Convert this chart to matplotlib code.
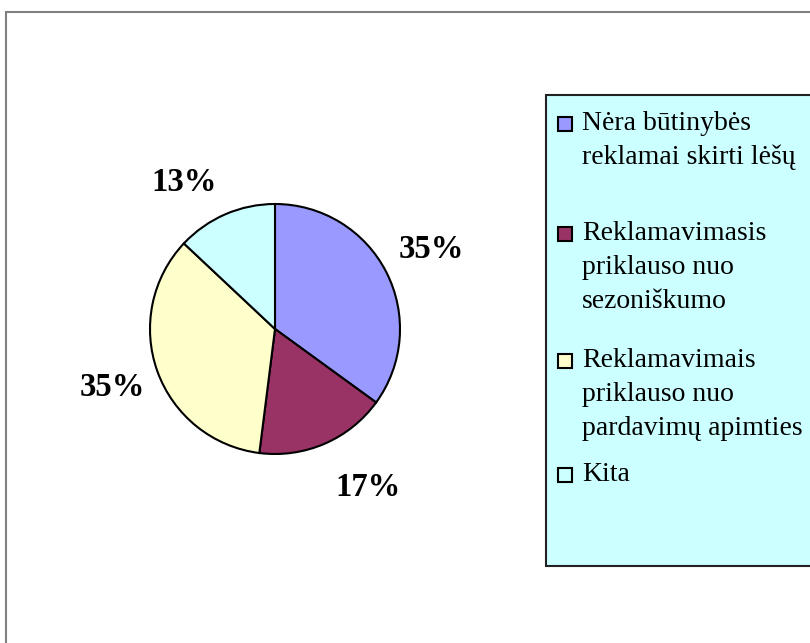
import numpy as np
import matplotlib.pyplot as plt
from matplotlib.patches import Rectangle

# Reklamavimo poreikis - atsakymu pasiskirstymas
categories = ['Nėra būtinybės\nreklamai skirti lėšų',
              'Reklamavimasis\npriklauso nuo\nsezoniškumo',
              'Reklamavimais\npriklauso nuo\npardavimų apimties',
              'Kita']
values = [35, 17, 35, 13]
colors = ['#9999FF', '#993366', '#FFFFCC', '#CCFFFF']

W, H = 810, 643
fig = plt.figure(figsize=(W / 100, H / 100), dpi=100)
fig.patch.set_facecolor('white')

def fx(px):
    return px / W

def fy(py):
    return 1 - py / H

# outer chart frame (runs past the right / bottom edge)
fig.patches.append(Rectangle((fx(6), fy(660)), fx(820), (660 - 12) / H,
                             transform=fig.transFigure, fill=False,
                             edgecolor='#808080', linewidth=1.5))

# pie axes: centre (275, 329), radius 125 px
cx, cy, r = 275, 329, 125
ax = fig.add_axes([fx(cx - r), fy(cy + r), 2 * r / W, 2 * r / H])
wedges, _ = ax.pie(values, colors=colors, startangle=90, counterclock=False,
                   radius=1.0,
                   wedgeprops=dict(edgecolor='black', linewidth=1.5))
ax.set_xlim(-1, 1)
ax.set_ylim(-1, 1)
ax.set_aspect('equal')
ax.axis('off')

# percentage labels outside the slices
label_dist = [1.40, 1.47, 1.38, 1.38]
label_shift = [0, 7, 0, 8.5]
for w, v, d, s in zip(wedges, values, label_dist, label_shift):
    ang = np.deg2rad((w.theta1 + w.theta2) / 2 + s)
    ax.text(d * np.cos(ang), d * np.sin(ang), '{}%'.format(v),
            ha='center', va='center', fontsize=23.5, fontweight='bold',
            family='Liberation Serif', clip_on=False)

# legend box
lx0, ly0, ly1 = 546, 95, 566
fig.patches.append(Rectangle((fx(lx0), fy(ly1)), fx(300), (ly1 - ly0) / H,
                             transform=fig.transFigure, facecolor='#CCFFFF',
                             edgecolor='#222222', linewidth=1.5))

baselines = [130, 240, 367, 481]
step = 34
for lab, col, b in zip(categories, colors, baselines):
    fig.patches.append(Rectangle((fx(558), fy(b + 1)), 14 / W, 14 / H,
                                 transform=fig.transFigure, facecolor=col,
                                 edgecolor='black', linewidth=1.5))
    for i, line in enumerate(lab.split('\n')):
        fig.text(fx(582), fy(b + i * step), line, ha='left', va='baseline',
                 fontsize=20, family='Liberation Serif', color='black')

plt.savefig('out.png', dpi=100)
